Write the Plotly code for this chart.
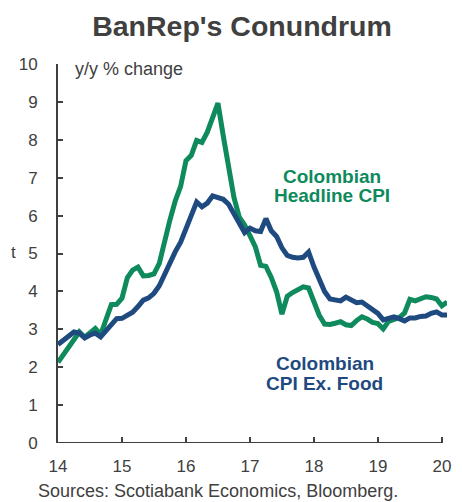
import plotly.graph_objects as go

# Monthly data, Jan 2014 - Feb 2020 (y/y % change)
start_year = 14
headline_cpi = [
    2.13, 2.32, 2.51, 2.72, 2.93, 2.79, 2.89, 3.02, 2.86, 3.29, 3.65, 3.66,
    3.82, 4.36, 4.56, 4.64, 4.41, 4.42, 4.46, 4.74, 5.35, 5.89, 6.39, 6.77,
    7.45, 7.59, 7.98, 7.93, 8.20, 8.60, 8.97, 8.10, 7.27, 6.48, 5.96, 5.75,
    5.47, 5.18, 4.69, 4.66, 4.37, 3.99, 3.40, 3.87, 3.97, 4.05, 4.12, 4.09,
    3.68, 3.37, 3.14, 3.13, 3.16, 3.20, 3.12, 3.10, 3.23, 3.33, 3.27, 3.18,
    3.15, 3.01, 3.21, 3.25, 3.31, 3.43, 3.79, 3.75, 3.82, 3.86, 3.84, 3.80,
    3.62, 3.72,
]
cpi_ex_food = [
    2.60, 2.72, 2.83, 2.93, 2.90, 2.77, 2.85, 2.90, 2.80, 2.97, 3.15, 3.28,
    3.29, 3.37, 3.45, 3.60, 3.77, 3.83, 3.95, 4.15, 4.45, 4.80, 5.05, 5.30,
    5.65, 6.00, 6.36, 6.23, 6.33, 6.52, 6.49, 6.43, 6.30, 6.05, 5.75, 5.55,
    5.67, 5.60, 5.58, 5.92, 5.60, 5.45, 5.15, 4.95, 4.90, 4.88, 4.90, 5.04,
    4.65, 4.35, 4.00, 3.80, 3.78, 3.75, 3.85, 3.78, 3.70, 3.72, 3.62, 3.53,
    3.42, 3.25, 3.30, 3.33, 3.28, 3.22, 3.30, 3.30, 3.34, 3.35, 3.42, 3.46,
    3.38, 3.38,
]
x_vals = [start_year + i / 12 for i in range(len(headline_cpi))]
x_tick_vals = [14, 15, 16, 17, 18, 19, 20]
x_tick_text = ["14", "15", "16", "17", "18", "19", "20"]
y_tick_vals = list(range(0, 11))

GREEN = "#0E8A5C"
NAVY = "#1F4A80"
GREY = "#404040"
FONT = "Liberation Sans, Arial, sans-serif"

fig = go.Figure()
fig.add_trace(go.Scatter(x=x_vals, y=headline_cpi, mode="lines",
                         line=dict(color=GREEN, width=5), showlegend=False))
fig.add_trace(go.Scatter(x=x_vals, y=cpi_ex_food, mode="lines",
                         line=dict(color=NAVY, width=5), showlegend=False))

# page body has an 8px default margin
OFF = 8
W, H = 462 - OFF, 502 - OFF
L, R, T, B = 50, 11, 56, 59
PW, PH = W - L - R, H - T - B


def px_to_paper_x(px):
    return (px - OFF - L) / PW


def px_to_paper_y(py):
    return (H - B - (py - OFF)) / PH


fig.update_layout(
    width=W, height=H,
    margin=dict(l=L, r=R, t=T, b=B),
    paper_bgcolor="white", plot_bgcolor="white",
    font=dict(family=FONT, color=GREY, size=17),
    title=dict(text="<b>BanRep's Conundrum</b>", x=(242 - OFF) / W,
               xanchor="center", y=1 - (26 - OFF) / H, yanchor="middle",
               font=dict(size=28.5, color=GREY, family=FONT)),
    xaxis=dict(range=[14, 20.08], tickvals=x_tick_vals, ticktext=x_tick_text,
               showgrid=False, zeroline=False, showline=False,
               ticks="inside", ticklen=6, tickwidth=1.5, tickcolor=GREY,
               ticklabelstandoff=11, tickfont=dict(size=17, color=GREY)),
    yaxis=dict(range=[0, 10], tickvals=y_tick_vals,
               showgrid=False, zeroline=False, showline=True,
               linecolor=GREY, linewidth=2,
               ticks="inside", ticklen=5, tickwidth=1.5, tickcolor=GREY,
               ticklabelstandoff=15, tickfont=dict(size=17, color=GREY)),
)

# x-axis baseline from 14 to 20
fig.add_shape(type="line", xref="x", yref="y", x0=14, x1=20, y0=0, y1=0,
              line=dict(color=GREY, width=2), layer="above")

fig.add_annotation(text="y/y % change", xref="paper", yref="paper",
                   x=px_to_paper_x(73), y=px_to_paper_y(69),
                   xanchor="left", yanchor="middle", showarrow=False,
                   font=dict(size=18, color=GREY, family=FONT))

series_labels = [
    ("<b>Colombian</b>", 18.28, 7.04, GREEN),
    ("<b>Headline CPI</b>", 18.28, 6.52, GREEN),
    ("<b>Colombian</b>", 18.17, 2.11, NAVY),
    ("<b>CPI Ex. Food</b>", 18.17, 1.58, NAVY),
]
for txt, lx, ly, col in series_labels:
    fig.add_annotation(text=txt, x=lx, y=ly, xref="x", yref="y",
                       showarrow=False, xanchor="center", yanchor="middle",
                       font=dict(size=19, color=col, family=FONT))

fig.add_annotation(text="Sources: Scotiabank Economics, Bloomberg.",
                   xref="paper", yref="paper",
                   x=px_to_paper_x(36), y=px_to_paper_y(491),
                   xanchor="left", yanchor="middle", showarrow=False,
                   font=dict(size=18, color=GREY, family=FONT))
fig.add_annotation(text="t", xref="paper", yref="paper",
                   x=px_to_paper_x(OFF), y=px_to_paper_y(252),
                   xanchor="left", yanchor="middle", showarrow=False,
                   font=dict(size=17, color=GREY, family=FONT))

fig.write_html("out.html")
